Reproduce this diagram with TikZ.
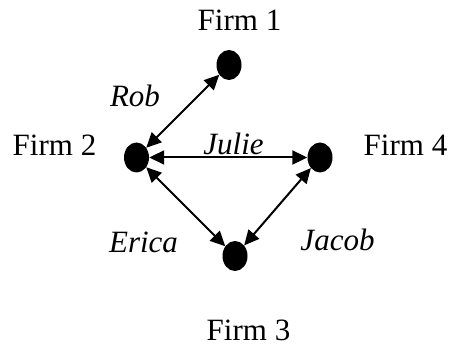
\documentclass[tikz,border=0pt]{standalone}
\usepackage{fontspec}
\setmainfont{Liberation Serif}
\usetikzlibrary{arrows.meta,shapes.geometric}
\tikzset{
  firmdot/.style={ellipse, fill=black, draw=none, minimum width=25pt, minimum height=30pt, inner sep=0pt},
  firmlbl/.style={anchor=base, inner sep=0pt, font=\fontsize{31}{37}\selectfont},
  personlbl/.style={anchor=base, inner sep=0pt, font=\fontsize{31}{37}\selectfont\itshape},
  link/.style={line width=2pt, {Triangle[length=15pt,width=14pt]}-{Triangle[length=15pt,width=14pt]}}
}
\begin{document}
\begin{tikzpicture}[x=1pt,y=-1pt]
\useasboundingbox (0,0) rectangle (454,352);
\node[firmdot] (f1) at (229,65) {};
\node[firmdot] (f2) at (136.5,157.5) {};
\node[firmdot] (f4) at (320,157.5) {};
\node[firmdot] (f3) at (235,256) {};
\node[firmlbl] (t1) at (239.5,31) {Firm 1};
\node[firmlbl] (t2) at (54.5,156) {Firm 2};
\node[firmlbl] (t4) at (405.5,156) {Firm 4};
\node[firmlbl] (t3) at (248.5,340) {Firm 3};
\draw[link] (f2) -- (f1);
\draw[link] (f2.east) -- (f4.west);
\draw[link] (f2) -- (f3);
\draw[link] (f4) -- (f3);
\node[personlbl] (rob) at (135,107) {Rob};
\node[personlbl] (julie) at (233.5,155) {Julie};
\node[personlbl] (erica) at (143.5,252) {Erica};
\node[personlbl] (jacob) at (337.5,251) {Jacob};
\end{tikzpicture}
\end{document}
